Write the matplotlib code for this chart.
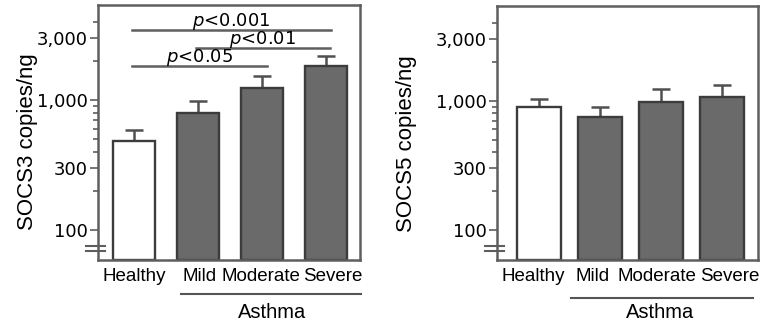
import matplotlib
matplotlib.use("Agg")
import matplotlib.pyplot as plt
import matplotlib.transforms as mtransforms
from matplotlib.ticker import FixedLocator, NullFormatter

plt.rcParams['font.family'] = ['Liberation Sans', 'DejaVu Sans']
plt.rcParams['mathtext.fontset'] = 'dejavusans'

# ---- data ----
categories = ["Healthy", "Mild", "Moderate", "Severe"]
socs3_mean = [485, 790, 1230, 1820]
socs3_sem = [100, 195, 310, 370]
socs5_mean = [890, 750, 970, 1060]
socs5_sem = [140, 150, 260, 260]
bar_colors = ["white", "#6a6a6a", "#6a6a6a", "#6a6a6a"]
major_ticks = [100, 300, 1000, 3000]
major_labels = ["100", "300", "1,000", "3,000"]
minor_ticks = [200, 400, 500, 600, 700, 800, 900, 2000, 4000]
# significance comparisons: (start group, end group, label, height)
sig_pairs = [(0, 3, "<0.001", 3470), (1, 3, "<0.01", 2520), (0, 2, "<0.05", 1833)]
group_label = "Asthma"

YMIN, YMAX = 58.5, 5400
SPINE = "#5e5e5e"
EDGE = "#3c3c3c"

fig = plt.figure(figsize=(7.63, 3.27), dpi=100)
ax1 = fig.add_axes([98/763, 67/327, 262/763, 255/327])
ax2 = fig.add_axes([497/763, 67/327, 261/763, 254/327])


def style(ax, means, sems, width, xlim, label_shift, ylabel, label_xy,
          line_span, line_y, text_x):
    x = list(range(len(categories)))
    ax.set_yscale('log')
    ax.bar(x, [m - YMIN for m in means], bottom=YMIN, width=width, color=bar_colors,
           edgecolor=EDGE, linewidth=1.7, zorder=2)
    ax.errorbar(x, means, yerr=[[0]*len(sems), sems], fmt='none', ecolor="#505050",
                elinewidth=1.8, capsize=6.5, capthick=1.8, zorder=1)
    ax.set_ylim(YMIN, YMAX)
    ax.set_xlim(*xlim)
    ax.yaxis.set_major_locator(FixedLocator(major_ticks))
    ax.set_yticklabels(major_labels, family='DejaVu Sans')
    ax.yaxis.set_minor_locator(FixedLocator(minor_ticks))
    ax.yaxis.set_minor_formatter(NullFormatter())
    ax.tick_params(axis='y', which='major', length=6, width=1.2, color=SPINE,
                   labelsize=13, pad=1.5)
    ax.tick_params(axis='y', which='minor', length=3.5, width=1.2, color=SPINE)
    ax.set_xticks([xi + d for xi, d in zip(x, label_shift)])
    ax.set_xticklabels(categories, fontsize=13.5)
    ax.tick_params(axis='x', length=0, pad=6)
    for s in ax.spines.values():
        s.set_color(SPINE)
        s.set_linewidth(1.8)
    ax.set_ylabel(ylabel, fontsize=16)
    ax.yaxis.set_label_coords(*label_xy)
    # axis break marks
    for yy in (0.056, 0.036):
        ax.plot([-0.046, 0.026], [yy, yy], transform=ax.transAxes, color=SPINE,
                lw=1.5, clip_on=False, zorder=5)
    # group line + label
    tr = mtransforms.blended_transform_factory(ax.transData, ax.transAxes)
    ax.plot(line_span, [line_y, line_y], transform=tr, color="#555555", lw=1.5,
            clip_on=False)
    ax.text(text_x, -0.205, group_label, transform=tr, ha='center', va='center',
            fontsize=14.5)


style(ax1, socs3_mean, socs3_sem, 0.66, (-0.56, 3.53), [0, 0.02, -0.02, 0.11],
      "SOCS3 copies/ng", (-0.229, 0.463), (0.73, 3.55), -0.133, 2.16)
style(ax2, socs5_mean, socs5_sem, 0.72, (-0.69, 3.59), [-0.1, -0.13, -0.07, 0.13],
      "SOCS5 copies/ng", (-0.306, 0.457), (0.52, 3.51), -0.15, 1.98)

for i, j, lab, yv in sig_pairs:
    x0, x1 = i - 0.03, j + 0.08 if i == 0 else j + 0.06
    ax1.plot([x0, x1], [yv, yv], color="#5f5f5f", lw=1.8, zorder=3)
    ax1.annotate(r"$p$" + lab, xy=((x0 + x1) / 2, yv), xytext=(0, 2.5),
                 textcoords='offset points', ha='center', va='baseline',
                 fontsize=13, family='DejaVu Sans')

fig.savefig("out.png", dpi=100)
